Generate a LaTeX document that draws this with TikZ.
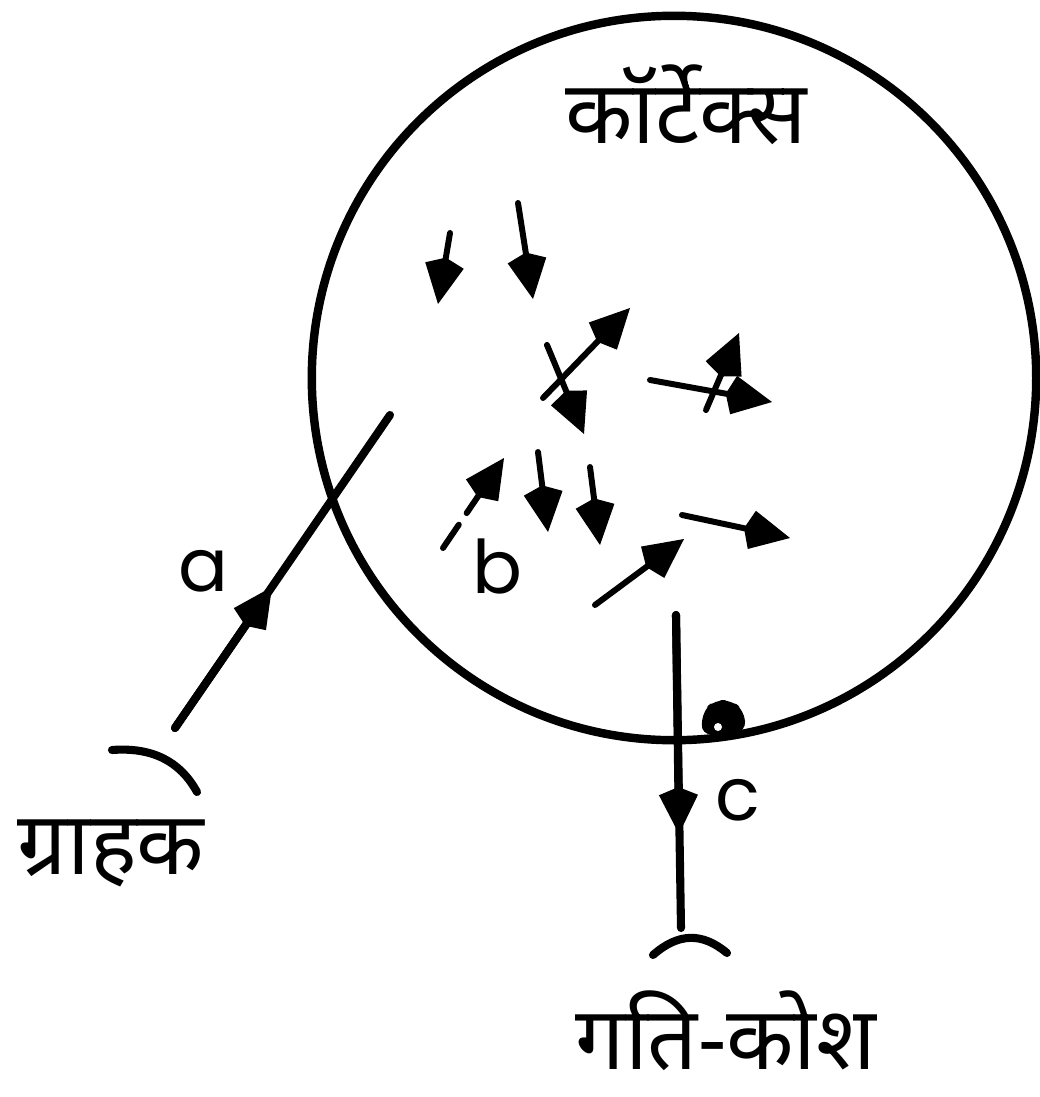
\documentclass[tikz,border=0pt]{standalone}
\usepackage{fontspec}
\newfontfamily\deva[Script=Devanagari]{Noto Sans}
\newfontfamily\lblfont{Poppins}
\usetikzlibrary{arrows.meta}
\tikzset{
  heavy/.style={line width=2.3pt, line cap=round},
  shaft/.style={line width=1.7pt, line cap=round},
  head/.style={-{Kite[length=0.47cm, width=0.39cm, inset=0.08cm]}},
  hindi/.style={font=\deva\fontsize{25}{30}\selectfont, inner sep=0pt},
  letter/.style={font=\lblfont\fontsize{21}{24}\selectfont, inner sep=0pt},
}
\begin{document}
\begin{tikzpicture}[x={(0.01cm,0)}, y={(0,-0.01cm)}]
\useasboundingbox (0,0) rectangle (1040,1097);
% cortex circle
\node (cortex) [circle, draw, line width=2.4pt, minimum size=7.24cm, inner sep=0pt] at (674,378) {};
\node (cortexlabel) [hindi] at (686,105) {कॉर्टेक्स};
% receptor
\coordinate (r1) at (112,750);
\coordinate (r2) at (197,792);
\draw[heavy] (r1) .. controls (152,747) and (180,761) .. (r2);
\node (receptor) [hindi] at (111,853) {ग्राहक};
% afferent line a
\coordinate (a0) at (175,728);
\coordinate (a1) at (390,415);
\coordinate (atip) at (272,587);
\draw[heavy] (a0) -- (a1);
\draw[heavy, head] (a0) -- (atip);
\node (la) [letter] at (203,571) {a};
% motor cell
\coordinate (m1) at (653,955);
\coordinate (m2) at (727,953);
\draw[heavy] (m1) .. controls (678,933) and (702,932) .. (m2);
\node (motor) [hindi, anchor=base] at (726,1069) {गति-कोश};
% efferent line c
\coordinate (c0) at (676,615);
\coordinate (c1) at (681,928);
\coordinate (ctip) at (679,834);
\draw[heavy] (c0) -- (c1);
\draw[heavy, head] (c0) -- (ctip);
\node (lc) [letter] at (738,800) {c};
% synapse knob
\fill[rounded corners=3pt] (701,735) -- (703,710) -- (715,700) -- (731,700) -- (744,710) -- (746,732) -- cycle;
\fill[white] (718,727) circle (4);
% interior arrows
\coordinate (p1) at (450,233); \coordinate (q1) at (438,304);
\coordinate (p2) at (518,203); \coordinate (q2) at (533,299);
\coordinate (p3) at (543,398); \coordinate (q3) at (630,308);
\coordinate (p4) at (547,345); \coordinate (q4) at (584,434);
\coordinate (p5) at (650,380); \coordinate (q5) at (772,402);
\coordinate (p6) at (706,410); \coordinate (q6) at (739,333);
\coordinate (p7) at (443,548); \coordinate (q7) at (504,458);
\coordinate (p8) at (538,452); \coordinate (q8) at (548,532);
\coordinate (p9) at (590,467); \coordinate (q9) at (600,545);
\coordinate (p10) at (682,515); \coordinate (q10) at (790,538);
\coordinate (p11) at (595,605); \coordinate (q11) at (684,539);
\draw[shaft, head] (p1) -- (q1);
\draw[shaft, head] (p2) -- (q2);
\draw[shaft, head] (p3) -- (q3);
\draw[shaft, head] (p4) -- (q4);
\draw[shaft, head] (p5) -- (q5);
\draw[shaft, head] (p6) -- (q6);
\draw[shaft, head, dash pattern=on 8pt off 4pt] (p7) -- (q7);
\draw[shaft, head] (p8) -- (q8);
\draw[shaft, head] (p9) -- (q9);
\draw[shaft, head] (p10) -- (q10);
\draw[shaft, head] (p11) -- (q11);
\node (lb) [letter] at (497,567) {b};
\end{tikzpicture}
\end{document}
